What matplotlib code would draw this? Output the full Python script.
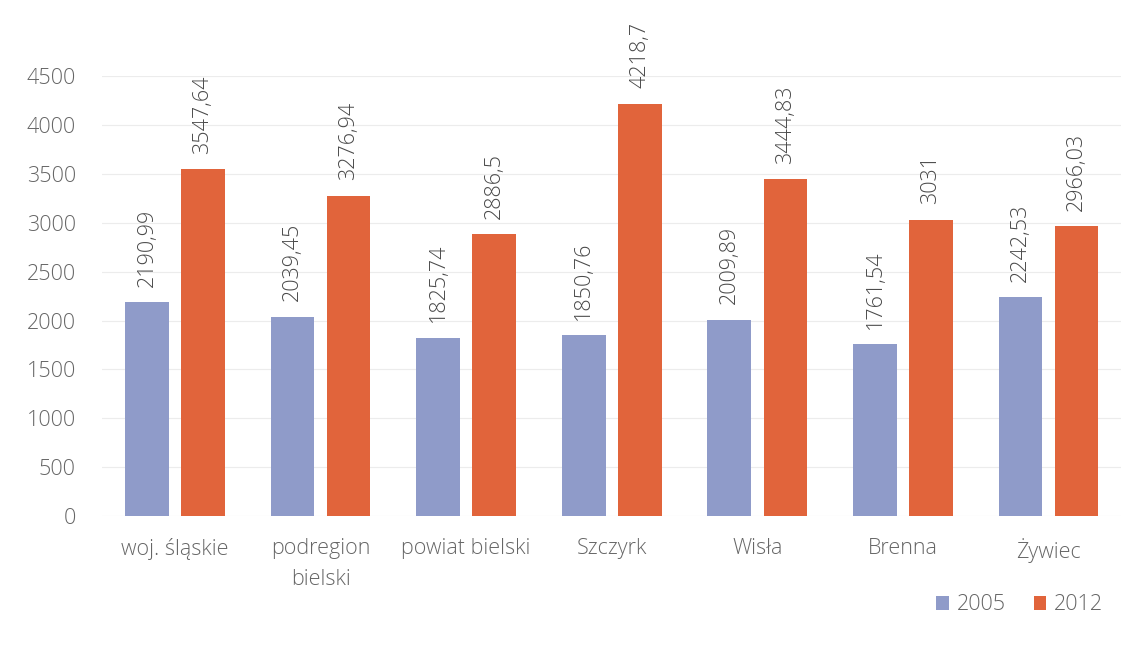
import matplotlib
matplotlib.use("Agg")
import matplotlib.pyplot as plt
import numpy as np

categories = ["woj. śląskie", "podregion\nbielski", "powiat bielski", "Szczyrk", "Wisła", "Brenna", "Żywiec"]
values_2005 = [2190.99, 2039.45, 1825.74, 1850.76, 2009.89, 1761.54, 2242.53]
values_2012 = [3547.64, 3276.94, 2886.5, 4218.7, 3444.83, 3031, 2966.03]
labels_2005 = ["2190,99", "2039,45", "1825,74", "1850,76", "2009,89", "1761,54", "2242,53"]
labels_2012 = ["3547,64", "3276,94", "2886,5", "4218,7", "3444,83", "3031", "2966,03"]

blue = "#8f9bc9"
orange = "#e1643b"
text_grey = "#666666"

plt.rcParams["font.family"] = ["Open Sans", "DejaVu Sans"]
plt.rcParams["font.weight"] = "light"

fig = plt.figure(figsize=(11.35, 6.61), dpi=100)
ax = fig.add_axes([0.090, 0.219, 0.898, 0.666])

x = np.arange(len(categories))
w = 0.30
gap = 0.085
b1 = ax.bar(x - (w + gap) / 2, values_2005, w, color=blue, label="2005", zorder=2)
b2 = ax.bar(x + (w + gap) / 2, values_2012, w, color=orange, label="2012", zorder=2)

for bars, labs in [(b1, labels_2005), (b2, labels_2012)]:
    for bar, lab in zip(bars, labs):
        ax.annotate(lab, (bar.get_x() + bar.get_width() / 2, bar.get_height()),
                    xytext=(0, 11), textcoords="offset points", rotation=90,
                    ha="center", va="bottom", fontsize=15.5, color="#4a4a4a",
                    annotation_clip=False)

ax.set_xlim(-0.5, len(categories) - 0.5)
ax.set_ylim(0, 4500)
ax.set_yticks(np.arange(0, 4501, 500))
ax.set_xticks(x)
ax.set_xticklabels(categories, fontsize=15.5, color=text_grey, linespacing=1.6)
ax.tick_params(axis="y", labelsize=15.5, labelcolor=text_grey, length=0, pad=19)
ax.tick_params(axis="x", length=0, pad=16)
ax.grid(axis="y", color="#ececec", linewidth=0.8, zorder=0)
for s in ax.spines.values():
    s.set_visible(False)

fig.legend(handles=[b1, b2], labels=["2005", "2012"], loc="center right",
           bbox_to_anchor=(0.989, 0.085), ncol=2, frameon=False,
           fontsize=15.5, handlelength=0.6, handleheight=0.6,
           handletextpad=0.35, columnspacing=1.3, labelcolor=text_grey)

fig.savefig("out.png", dpi=100, facecolor="white")
